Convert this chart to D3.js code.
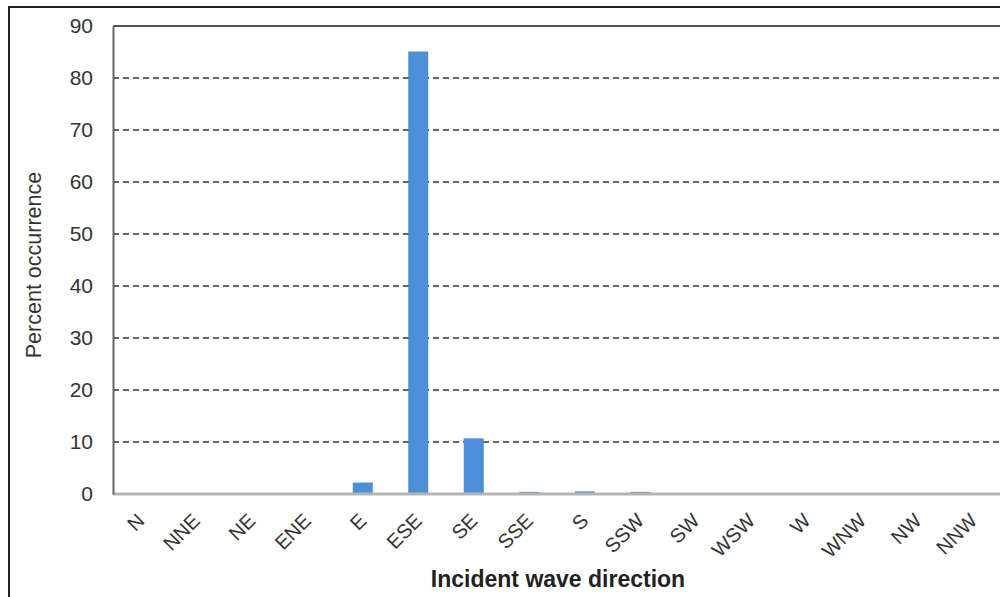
<!DOCTYPE html>
<html>
<head>
<meta charset="utf-8">
<script src="https://cdn.jsdelivr.net/npm/d3@7"></script>
<style>
  html, body { margin: 0; padding: 0; background: #fff; }
  svg { display: block; font-family: "Liberation Sans", Arial, sans-serif; }
</style>
</head>
<body>
<svg id="chart" width="1000" height="597"></svg>
<script>
const categories = ["N","NNE","NE","ENE","E","ESE","SE","SSE","S","SSW","SW","WSW","W","WNW","NW","NNW"];
const values = [0, 0, 0, 0, 2.2, 85.1, 10.7, 0.4, 0.5, 0.4, 0.15, 0, 0, 0, 0, 0];
const yTicks = [0, 10, 20, 30, 40, 50, 60, 70, 80, 90];
const xTitle = "Incident wave direction";
const yTitle = "Percent occurrence";

const svg = d3.select("#chart");
const m = { left: 113, right: 1001, top: 26, bottom: 494 };

// outer frame
svg.append("rect").attr("x", 9).attr("y", 7).attr("width", 1100).attr("height", 700)
  .attr("fill", "#fff").attr("stroke", "#222").attr("stroke-width", 2);

const x = d3.scaleBand().domain(categories).range([m.left, m.right]).paddingInner(0.64).paddingOuter(0.32);
const y = d3.scaleLinear().domain([0, 90]).range([m.bottom, m.top]);

// gridlines
svg.append("g").selectAll("line").data(yTicks.filter(t => t > 0 && t < 90)).join("line")
  .attr("x1", m.left).attr("x2", m.right)
  .attr("y1", d => y(d)).attr("y2", d => y(d))
  .attr("stroke", "#333").attr("stroke-width", 1.4).attr("stroke-dasharray", "6,4");

// top border
svg.append("line").attr("x1", m.left).attr("x2", m.right + 10).attr("y1", y(90)).attr("y2", y(90))
  .attr("stroke", "#555").attr("stroke-width", 2);

// bars
svg.append("g").selectAll("rect").data(categories).join("rect")
  .attr("x", d => x(d))
  .attr("width", x.bandwidth())
  .attr("y", (d, i) => y(values[i]))
  .attr("height", (d, i) => y(0) - y(values[i]))
  .attr("fill", "#4a8fd7");

// x axis line
svg.append("line").attr("x1", m.left).attr("x2", m.right + 10).attr("y1", y(0)).attr("y2", y(0))
  .attr("stroke", "#b4b4b4").attr("stroke-width", 3);

// y axis
const yAxis = d3.axisLeft(y).tickValues(yTicks).tickSize(0).tickPadding(20);
const gy = svg.append("g").attr("transform", `translate(${m.left},0)`).call(yAxis);
gy.select(".domain").attr("stroke", "#666").attr("stroke-width", 2);
gy.selectAll("text").attr("font-size", 21).attr("fill", "#333").attr("font-family", "Liberation Sans, Arial, sans-serif");

// x labels
const xAxis = d3.axisBottom(x).tickSize(0);
const gx = svg.append("g").attr("transform", `translate(0,${m.bottom})`).call(xAxis);
gx.select(".domain").remove();
gx.selectAll(".tick text")
  .attr("font-size", 20).attr("fill", "#333").attr("font-family", "Liberation Sans, Arial, sans-serif")
  .attr("text-anchor", "end")
  .attr("dy", 0).attr("y", 0)
  .attr("transform", "translate(5,28) rotate(-45)");

// axis titles
svg.append("text").attr("x", 558).attr("y", 587).attr("text-anchor", "middle")
  .attr("font-size", 23).attr("font-weight", "bold").attr("fill", "#222").text(xTitle);

svg.append("text").attr("transform", "translate(33,265) rotate(-90)")
  .attr("text-anchor", "middle").attr("dy", "0.35em")
  .attr("font-size", 21.5).attr("fill", "#333").text(yTitle);
</script>
</body>
</html>
